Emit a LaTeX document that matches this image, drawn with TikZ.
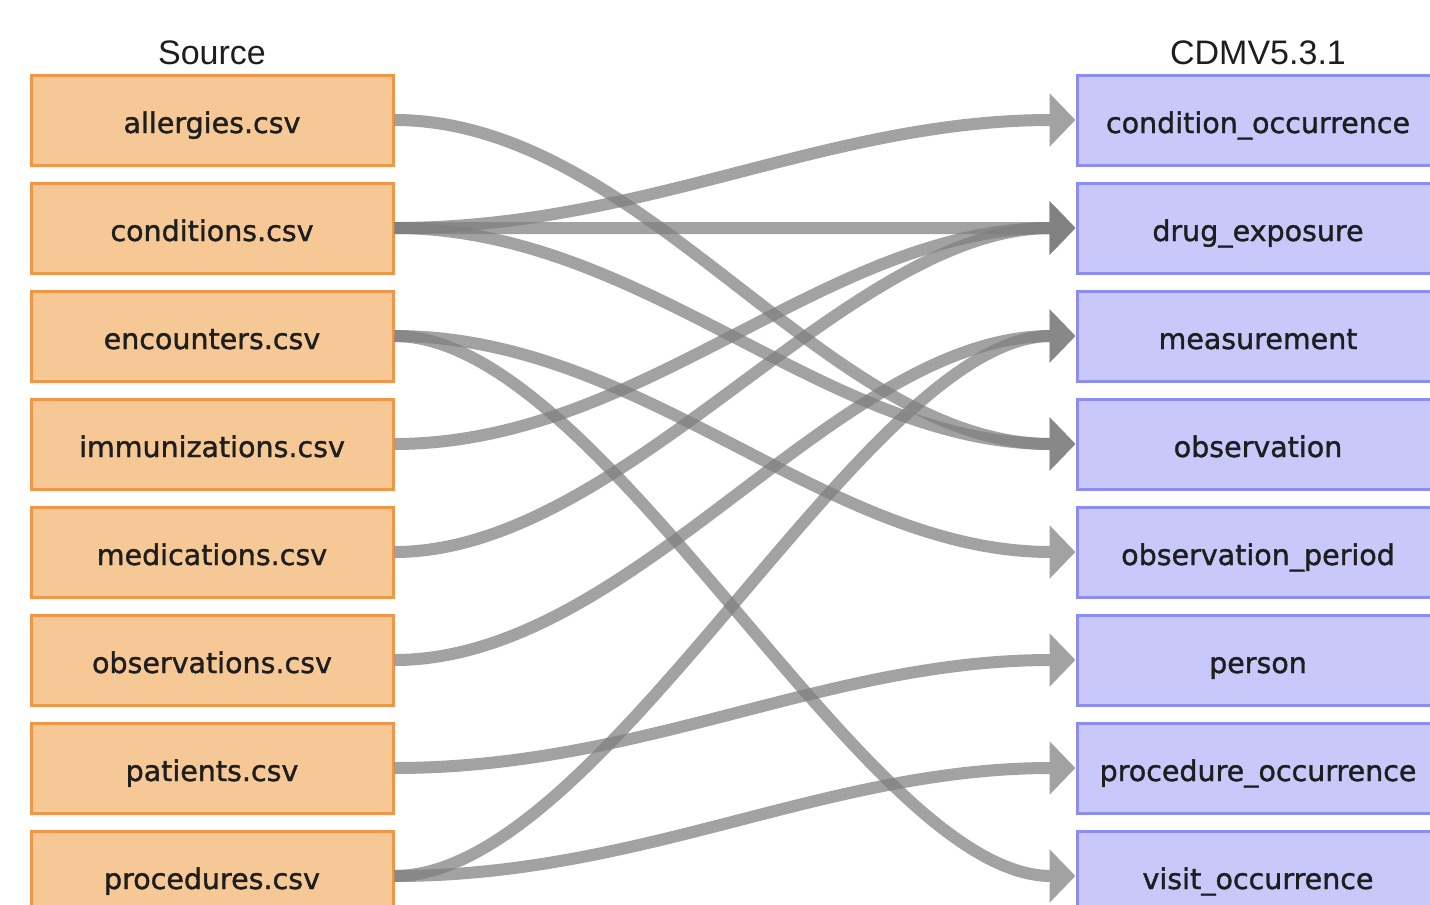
\documentclass[tikz,border=0pt]{standalone}
\usepackage{fontspec}
\setmainfont{DejaVu Sans}
\newfontfamily\titlefont{Liberation Sans}
\newfontfamily\labelfont[FakeBold=1.3]{DejaVu Sans}
\usetikzlibrary{arrows.meta}
\definecolor{srcfill}{RGB}{246,200,150}
\definecolor{srcdraw}{RGB}{240,150,70}
\definecolor{cdmfill}{RGB}{200,200,250}
\definecolor{cdmdraw}{RGB}{140,140,245}
\definecolor{edgegray}{RGB}{126,126,126}
\definecolor{labeltext}{RGB}{30,30,30}
\tikzset{
  srcbox/.style={draw=srcdraw,fill=srcfill,line width=3pt,minimum width=362pt,minimum height=90pt,inner sep=0pt,
    font=\labelfont\fontsize{28.5}{34}\selectfont,text=labeltext,text height=26pt,text depth=0pt},
  cdmbox/.style={draw=cdmdraw,fill=cdmfill,line width=3pt,minimum width=362pt,minimum height=90pt,inner sep=0pt,
    font=\labelfont\fontsize{28.5}{34}\selectfont,text=labeltext,text height=26pt,text depth=0pt},
  coltitle/.style={font=\titlefont\fontsize{34}{40}\selectfont,text=labeltext,inner sep=0pt},
  edgeline/.style={draw=edgegray,line width=12pt,-{Triangle[length=26pt,width=52pt]}},
  grp/.style={transparency group,opacity=0.72}
}
\begin{document}
\begin{tikzpicture}[x=1pt,y=-1pt]
\useasboundingbox (0,0) rectangle (1430,905);
\clip (0,0) rectangle (1430,905);
\node[coltitle] (tsrc) at (212,53) {Source};
\node[coltitle] (tcdm) at (1258,53) {CDMV5.3.1};
\node[srcbox] (al) at (212,120) {allergies.csv};
\node[srcbox] (co) at (212,228) {conditions.csv};
\node[srcbox] (en) at (212,336) {encounters.csv};
\node[srcbox] (im) at (212,444) {immunizations.csv};
\node[srcbox] (me) at (212,552) {medications.csv};
\node[srcbox] (ob) at (212,660) {observations.csv};
\node[srcbox] (pa) at (212,768) {patients.csv};
\node[srcbox] (pr) at (212,876) {procedures.csv};
\node[cdmbox] (cocc) at (1258,120) {condition\_occurrence};
\node[cdmbox] (drug) at (1258,228) {drug\_exposure};
\node[cdmbox] (meas) at (1258,336) {measurement};
\node[cdmbox] (obs) at (1258,444) {observation};
\node[cdmbox] (obsp) at (1258,552) {observation\_period};
\node[cdmbox] (pers) at (1258,660) {person};
\node[cdmbox] (proc) at (1258,768) {procedure\_occurrence};
\node[cdmbox] (visit) at (1258,876) {visit\_occurrence};
\begin{scope}[grp]\draw[edgeline] (al.east) .. controls +(250,0) and +(-250,0) .. (obs.west);\end{scope}
\begin{scope}[grp]\draw[edgeline] (co.east) .. controls +(250,0) and +(-250,0) .. (cocc.west);\end{scope}
\begin{scope}[grp]\draw[edgeline] (co.east) -- (drug.west);\end{scope}
\begin{scope}[grp]\draw[edgeline] (co.east) .. controls +(250,0) and +(-250,0) .. (obs.west);\end{scope}
\begin{scope}[grp]\draw[edgeline] (en.east) .. controls +(250,0) and +(-250,0) .. (obsp.west);\end{scope}
\begin{scope}[grp]\draw[edgeline] (en.east) .. controls +(210,0) and +(-210,0) .. (visit.west);\end{scope}
\begin{scope}[grp]\draw[edgeline] (im.east) .. controls +(250,0) and +(-250,0) .. (drug.west);\end{scope}
\begin{scope}[grp]\draw[edgeline] (me.east) .. controls +(230,0) and +(-230,0) .. (drug.west);\end{scope}
\begin{scope}[grp]\draw[edgeline] (ob.east) .. controls +(240,0) and +(-240,0) .. (meas.west);\end{scope}
\begin{scope}[grp]\draw[edgeline] (pa.east) .. controls +(250,0) and +(-250,0) .. (pers.west);\end{scope}
\begin{scope}[grp]\draw[edgeline] (pr.east) .. controls +(210,0) and +(-210,0) .. (meas.west);\end{scope}
\begin{scope}[grp]\draw[edgeline] (pr.east) .. controls +(250,0) and +(-250,0) .. (proc.west);\end{scope}
\end{tikzpicture}
\end{document}
